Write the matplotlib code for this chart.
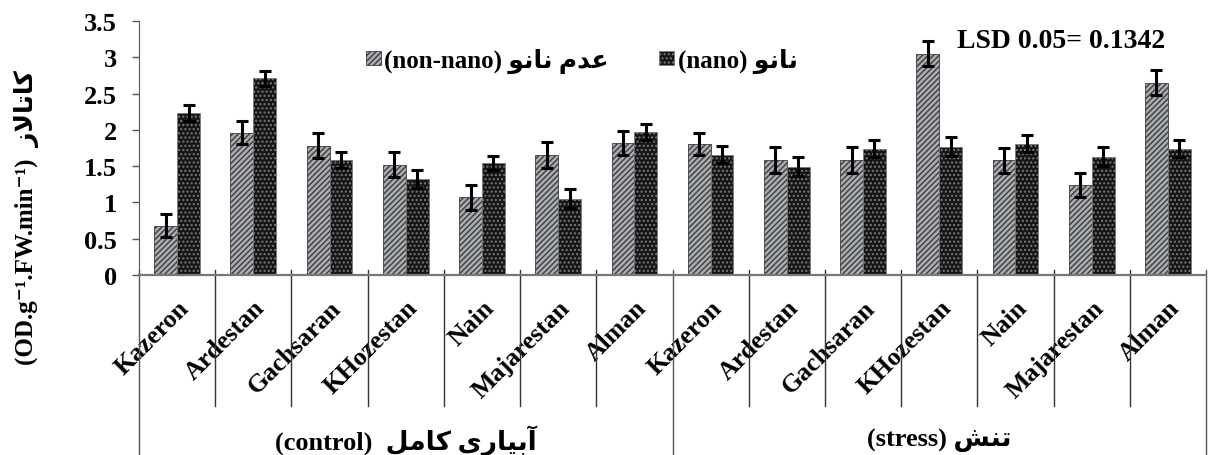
import matplotlib
matplotlib.use("Agg")
import matplotlib.pyplot as plt
import matplotlib.transforms as mtransforms
import numpy as np

plt.rcParams['font.family'] = ['Liberation Serif', 'DejaVu Sans']
plt.rcParams['font.weight'] = 'bold'
plt.rcParams['hatch.linewidth'] = 1.0

# Persian strings written in visual (left-to-right) order with presentation forms
FA_NANO = "\uFEEE\uFEE7\uFE8E\uFEE7"                       # نانو
FA_NON_NANO = "\uFEEE\uFEE7\uFE8E\uFEE7 \uFEE1\uFEAA\uFECB"  # عدم نانو
FA_CONTROL = "\uFEDE\uFEE3\uFE8E\uFB90 \uFBFC\uFEAD\uFE8E\uFBFF\uFE91\uFE81"  # آبیاری کامل
FA_STRESS = "\uFEB6\uFEE8\uFE97"                          # تنش
FA_CAT = "\uFEAF\uFEFB\uFE8E\uFE97\uFE8E\uFB90"            # کاتالاز

cultivars = ["Kazeron", "Ardestan", "Gachsaran", "KHozestan", "Nain", "Majarestan", "Alman"]
groups = ["(control)  " + FA_CONTROL, "(stress) " + FA_STRESS]
labels = cultivars + cultivars

non_nano = [0.68, 1.96, 1.78, 1.52, 1.07, 1.65, 1.82,
            1.80, 1.58, 1.58, 3.05, 1.58, 1.24, 2.65]
nano = [2.23, 2.71, 1.58, 1.32, 1.54, 1.05, 1.97,
        1.66, 1.49, 1.74, 1.77, 1.81, 1.63, 1.74]
non_nano_err = [0.16, 0.16, 0.17, 0.17, 0.17, 0.18, 0.16,
                0.15, 0.18, 0.18, 0.17, 0.17, 0.17, 0.17]
nano_err = [0.11, 0.10, 0.11, 0.12, 0.10, 0.13, 0.11,
            0.12, 0.13, 0.12, 0.13, 0.12, 0.13, 0.12]
lsd_text = "LSD 0.05= 0.1342"

fig = plt.figure(figsize=(12.1, 4.56), dpi=100)
ax = fig.add_axes([139/1210, 180/456, 1067/1210, 254/456])

x = np.arange(len(labels)) + 0.5
w = 0.30
b1 = ax.bar(x - w/2, non_nano, w, color='#a9adb3', edgecolor='#3c3c3c',
            hatch='//////', linewidth=0.6, label="(non-nano) " + FA_NON_NANO, zorder=2)
b2 = ax.bar(x + w/2, nano, w, color='#161616', edgecolor='#7a7a7a',
            hatch='....', linewidth=0.6, label="(nano) " + FA_NANO, zorder=2)
ekw = dict(fmt='none', ecolor='black', elinewidth=2.2, capsize=4.5, capthick=2.2, zorder=3)
ax.errorbar(x - w/2, non_nano, yerr=non_nano_err, **ekw)
ax.errorbar(x + w/2, nano, yerr=nano_err, **ekw)

ax.set_xlim(0, len(labels))
ax.set_ylim(0, 3.5)
ax.set_yticks(np.arange(0, 3.51, 0.5))
ax.set_yticklabels(["0", "0.5", "1", "1.5", "2", "2.5", "3", "3.5"])
ax.tick_params(axis='y', labelsize=19, length=5, width=1, color='#555555', pad=11)
ax.set_xticks(x)
ax.set_xticklabels(labels, rotation=45, ha='right', rotation_mode='anchor', fontsize=18.5)
ax.tick_params(axis='x', length=0, pad=15)

for s in ['top', 'right']:
    ax.spines[s].set_visible(False)
ax.spines['left'].set_color('#555555')
ax.spines['bottom'].set_color('#777777')
ax.spines['bottom'].set_linewidth(1.6)

# category and group dividers below the axis
trans = mtransforms.blended_transform_factory(ax.transData, ax.transAxes)
n = len(labels)
for i in range(n + 1):
    if i in (0, n // 2, n):
        ax.plot([i, i], [0.02, -0.72], transform=trans, color='#555555', lw=1, clip_on=False)
    else:
        ax.plot([i, i], [0.02, -0.516], transform=trans, color='#333333', lw=1, clip_on=False)

ax.text(n / 4, -0.648, groups[0], transform=trans, ha='center', va='center', fontsize=19)
ax.text(3 * n / 4, -0.648, groups[1], transform=trans, ha='center', va='center', fontsize=19)

ax.text(0.864, 0.925, lsd_text, transform=ax.transAxes, ha='center', va='center', fontsize=20)

ax.legend(handles=[b1, b2], loc='center', bbox_to_anchor=(0.415, 0.846), ncol=2,
          frameon=False, fontsize=18, handlelength=0.6, handleheight=0.5,
          handletextpad=0.15, columnspacing=2.0)

fig.text(27/1210, 1 - 218/456, "(OD.g\u207b\u00b9.FW.min\u207b\u00b9)  " + FA_CAT,
         rotation=90, ha='center', va='center', fontsize=18)

fig.savefig("out.png", dpi=100)
